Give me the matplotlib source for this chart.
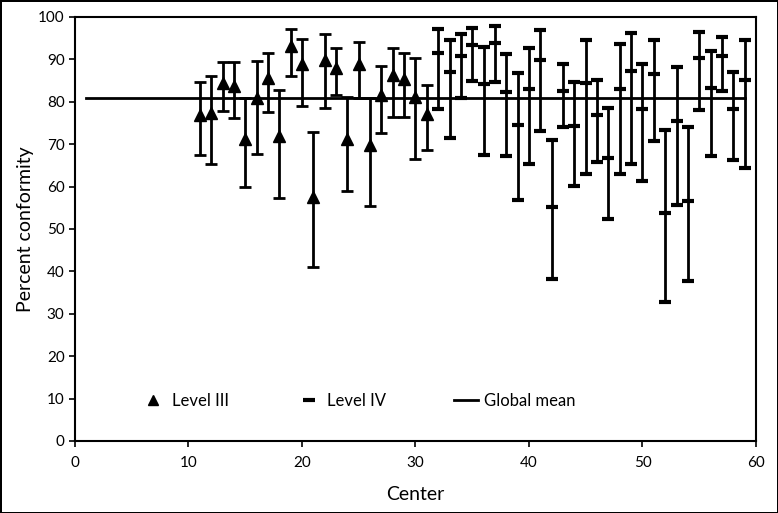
import matplotlib.pyplot as plt
from matplotlib.lines import Line2D

plt.rcParams['font.family'] = ['Lato', 'DejaVu Sans']

# Level III centers: mean and error-bar ends
l3_center = list(range(11, 32))
l3_mean = [76.8, 77.3, 84.4, 83.6, 71.2, 80.9, 85.7, 71.9, 93.2, 89.0, 57.5,
           89.9, 87.9, 71.2, 89.0, 69.7, 81.6, 86.3, 85.3, 81.0, 77.0]
l3_high = [84.7, 86.1, 89.4, 89.4, 80.8, 89.7, 91.6, 82.8, 97.2, 94.8, 72.8,
           96.0, 92.7, 81.2, 94.2, 80.8, 88.5, 92.7, 91.6, 90.3, 83.9]
l3_low = [67.5, 65.3, 77.9, 76.2, 59.8, 67.7, 77.6, 57.4, 86.1, 78.9, 41.0,
          78.5, 81.6, 58.9, 80.8, 55.3, 72.6, 76.4, 76.4, 66.4, 68.6]

# Level IV centers
l4_center = list(range(32, 60))
l4_mean = [91.6, 86.9, 90.8, 93.4, 84.1, 93.8, 82.4, 74.5, 83.0, 89.8, 55.2,
           82.6, 74.2, 84.5, 76.8, 66.7, 83.0, 87.2, 78.3, 86.6, 53.7, 75.4,
           56.7, 90.4, 83.2, 90.9, 78.3, 85.1]
l4_high = [97.1, 94.5, 96.0, 97.4, 92.9, 97.8, 91.3, 86.7, 92.7, 96.8, 71.0,
           88.8, 84.7, 94.5, 85.2, 78.6, 93.5, 96.2, 88.8, 94.5, 73.4, 88.2,
           74.0, 96.5, 92.0, 95.3, 86.9, 94.5]
l4_low = [78.3, 71.4, 80.8, 84.9, 67.4, 84.6, 67.1, 56.8, 65.3, 73.0, 38.2,
          74.1, 60.2, 63.0, 65.9, 52.3, 63.0, 65.3, 61.4, 70.7, 32.8, 55.6,
          37.7, 78.0, 67.2, 82.6, 66.3, 64.4]

global_mean = 80.8
mean_span = [1, 59]

fig = plt.figure(figsize=(7.78, 5.13), dpi=100, linewidth=2, edgecolor='black')
ax = fig.add_axes([0.0964, 0.1404, 0.8753, 0.8266])

ax.plot(mean_span, [global_mean, global_mean], color='black', lw=2, zorder=1)

yerr3 = [[m - lo for m, lo in zip(l3_mean, l3_low)],
         [hi - m for m, hi in zip(l3_mean, l3_high)]]
ax.errorbar(l3_center, l3_mean, yerr=yerr3, fmt='^', color='black',
            ms=9, elinewidth=2, capsize=4, capthick=2, zorder=3)

yerr4 = [[m - lo for m, lo in zip(l4_mean, l4_low)],
         [hi - m for m, hi in zip(l4_mean, l4_high)]]
ax.errorbar(l4_center, l4_mean, yerr=yerr4, fmt='_', color='black',
            ms=9, mew=3, elinewidth=2, capsize=4, capthick=2, zorder=3)

ax.set_xlim(0, 60)
ax.set_ylim(0, 100)
ax.set_xticks(range(0, 61, 10))
ax.set_yticks(range(0, 101, 10))
ax.tick_params(direction='out', length=4, width=1.2, labelsize=11)
ax.tick_params(axis='x', pad=7)
for s in ax.spines.values():
    s.set_linewidth(1.5)

ax.set_xlabel('Center', fontsize=14, labelpad=11)
ax.set_ylabel('Percent conformity', fontsize=14, labelpad=3)

handles = [
    Line2D([], [], marker='^', ls='none', color='black', ms=7),
    Line2D([], [], marker='_', ls='none', color='black', ms=8, mew=3),
    Line2D([], [], color='black', lw=2),
]
ax.legend(handles, ['Level III', 'Level IV', 'Global mean'], ncol=3, frameon=False,
          loc='center left', bbox_to_anchor=(0.076, 0.094), fontsize=12,
          columnspacing=4.1, handlelength=1.4, handletextpad=0.4)

fig.savefig('out.png', dpi=100)
